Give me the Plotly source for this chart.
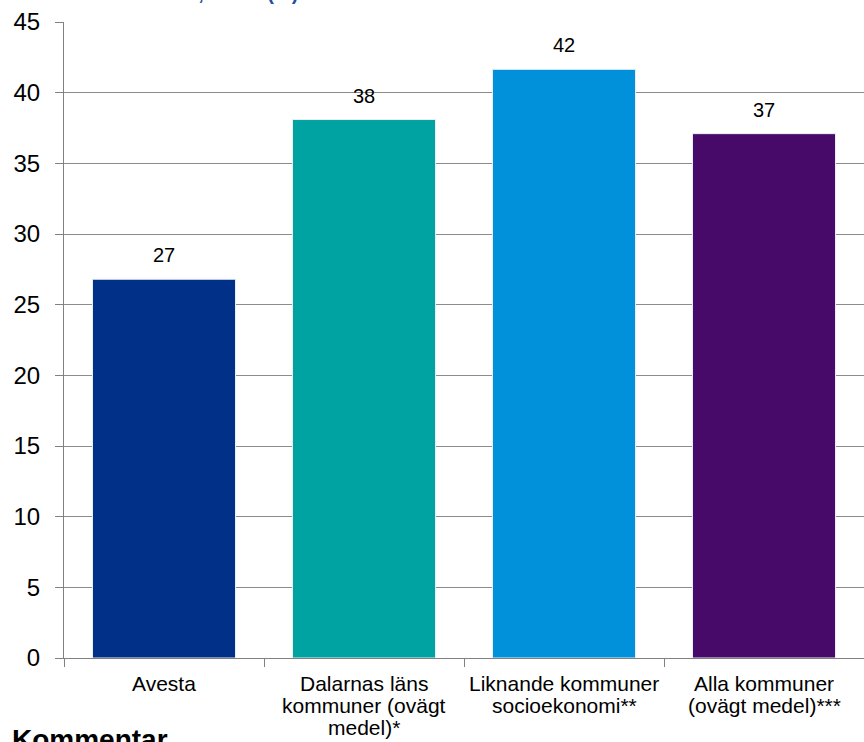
import plotly.graph_objects as go

categories = ["Avesta", "Dalarnas läns kommuner (ovägt medel)*",
              "Liknande kommuner socioekonomi**", "Alla kommuner (ovägt medel)***"]
category_lines = [["Avesta"],
                  ["Dalarnas läns", "kommuner (ovägt", "medel)*"],
                  ["Liknande kommuner", "socioekonomi**"],
                  ["Alla kommuner", "(ovägt medel)***"]]
values = [26.8, 38.1, 41.65, 37.1]
labels = ["27", "38", "42", "37"]
colors = ["#003087", "#00A3A1", "#0091DA", "#470A68"]
ytick_vals = [0, 5, 10, 15, 20, 25, 30, 35, 40, 45]
title_text = "Invånare 16-84 år, andel (%)"
footer_text = "Kommentar"

FONT = "Liberation Sans, Arial, sans-serif"

fig = go.Figure()
fig.add_trace(go.Bar(
    x=categories, y=values,
    marker=dict(color=colors, line=dict(color="#e8eef5", width=1)),
    hoverinfo="skip",
))

# value labels above bars
for c, v, t in zip(categories, values, labels):
    fig.add_annotation(x=c, y=v, text=t, showarrow=False, yanchor="bottom",
                       yshift=11, font=dict(family=FONT, size=20, color="#000000"))

# category labels (multi-line, tight line spacing)
for c, lines in zip(categories, category_lines):
    for i, ln in enumerate(lines):
        fig.add_annotation(x=c, xref="x", yref="paper", y=0, text=ln, showarrow=False,
                           yanchor="middle", yshift=-25 - 22 * i,
                           font=dict(family=FONT, size=21, color="#000000"))

# partially visible title and footer text
fig.add_annotation(xref="paper", yref="paper", x=0, y=1, xanchor="left", yanchor="bottom",
                   xshift=-30, yshift=16, showarrow=False,
                   text="<b>" + title_text + "</b>",
                   font=dict(family=FONT, size=20, color="#1F4E9A"))
fig.add_annotation(xref="paper", yref="paper", x=0, y=0, xanchor="left", yanchor="top",
                   xshift=-54, yshift=-64, showarrow=False,
                   text="<b>" + footer_text + "</b>",
                   font=dict(family=FONT, size=28, color="#000000"))

fig.update_layout(
    width=864, height=742,
    margin=dict(l=64, r=0, t=22, b=84, autoexpand=False),
    paper_bgcolor="white", plot_bgcolor="white",
    bargap=0.285, showlegend=False,
    font=dict(family=FONT, color="#000000"),
)
fig.update_xaxes(
    tickson="boundaries", ticks="outside", ticklen=8, tickcolor="#808080",
    showline=True, linecolor="#808080", linewidth=1, showgrid=False,
    showticklabels=False, range=[-0.5, 3.5], automargin=False,
)
fig.update_yaxes(
    range=[0, 45], tickvals=ytick_vals, ticks="outside", ticklen=8, tickcolor="#808080",
    showline=True, linecolor="#808080", linewidth=1,
    showgrid=True, gridcolor="#8c8c8c", gridwidth=1, zeroline=False,
    tickfont=dict(family=FONT, size=24, color="#000000"), ticklabelstandoff=10,
    automargin=False,
)

fig.write_html("out.html", config={"displayModeBar": False},
               post_script="document.body.style.margin='0';document.body.style.overflow='hidden';")
